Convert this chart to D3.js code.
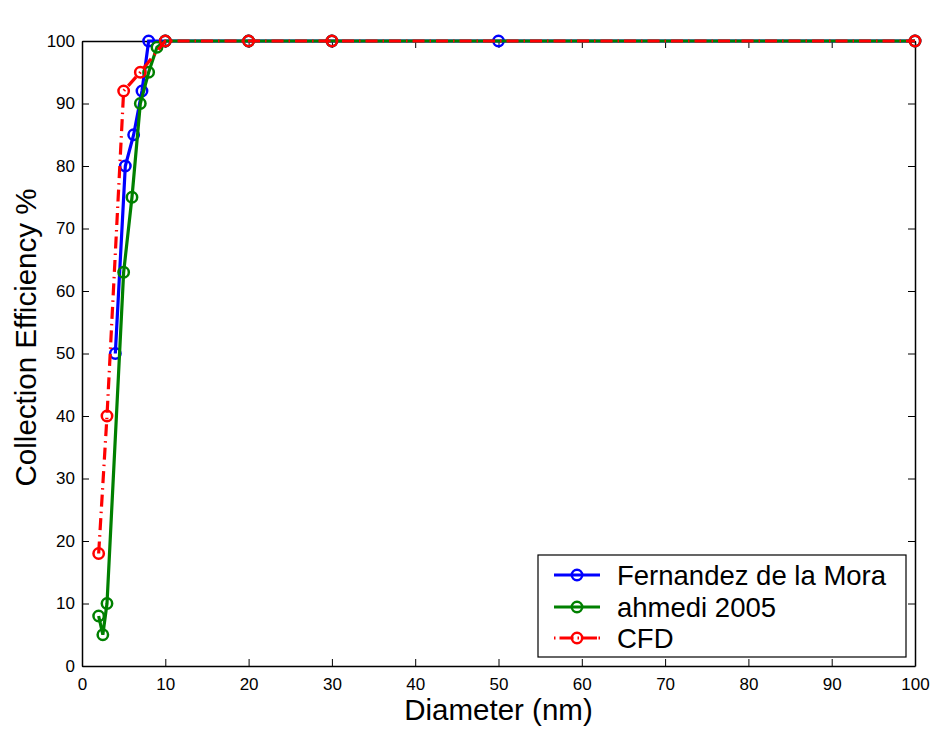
<!DOCTYPE html>
<html><head><meta charset="utf-8">
<script src="https://cdn.jsdelivr.net/npm/d3@7"></script>
<style>body{margin:0;background:#fff;} svg{display:block;}</style>
</head><body>
<script>
// Data
const moraX = [4, 5.2, 6.2, 7.2, 8, 10, 20, 30, 50, 100];
const moraY = [50, 80, 85, 92, 100, 100, 100, 100, 100, 100];
const ahmediX = [2, 2.5, 3, 5, 6, 7, 8, 9, 10, 20, 30, 100];
const ahmediY = [8, 5, 10, 63, 75, 90, 95, 99, 100, 100, 100, 100];
const cfdX = [2, 3, 5, 7, 10, 20, 30, 100];
const cfdY = [18, 40, 92, 95, 100, 100, 100, 100];
const seriesNames = ["Fernandez de la Mora", "ahmedi 2005", "CFD"];
const xTicks = [0,10,20,30,40,50,60,70,80,90,100];
const yTicks = [0,10,20,30,40,50,60,70,80,90,100];

const W = 936, H = 731;
const L = 82, R = 915, T = 41, B = 666;
const svg = d3.select("body").append("svg").attr("width", W).attr("height", H)
  .style("font-family", "'Liberation Sans', Arial, Helvetica, sans-serif");

const x = d3.scaleLinear().domain([0,100]).range([L,R]);
const y = d3.scaleLinear().domain([0,100]).range([B,T]);

// Axes box
const tickLen = 7;
const axB = svg.append("g").attr("transform",`translate(0,${B})`)
  .call(d3.axisBottom(x).tickValues(xTicks).tickSize(-tickLen).tickPadding(12).tickSizeOuter(0));
const axT = svg.append("g").attr("transform",`translate(0,${T})`)
  .call(d3.axisTop(x).tickValues(xTicks).tickSize(-tickLen).tickFormat("").tickSizeOuter(0));
const axL = svg.append("g").attr("transform",`translate(${L},0)`)
  .call(d3.axisLeft(y).tickValues(yTicks).tickSize(-tickLen).tickPadding(7).tickSizeOuter(0));
const axR = svg.append("g").attr("transform",`translate(${R},0)`)
  .call(d3.axisRight(y).tickValues(yTicks).tickSize(-tickLen).tickFormat("").tickSizeOuter(0));
[axB,axT,axL,axR].forEach(g=>{
  g.selectAll(".domain").attr("stroke","#000").attr("stroke-width",1.5);
  g.selectAll(".tick line").attr("stroke","#000").attr("stroke-width",1);
  g.selectAll("text").attr("font-size",17).attr("fill","#000").style("font-family","'Liberation Sans', Arial, sans-serif");
});

// Lines
const series = [
  {xs: moraX, ys: moraY, color: "#0000ff", dash: null},
  {xs: ahmediX, ys: ahmediY, color: "#008000", dash: null},
  {xs: cfdX, ys: cfdY, color: "#ff0000", dash: "12,5,1.5,5"}
];
const line = d3.line().x(d=>x(d[0])).y(d=>y(d[1]));
series.forEach(s=>{
  const pts = s.xs.map((v,i)=>[v, s.ys[i]]);
  svg.append("path").datum(pts).attr("d", line).attr("fill","none")
    .attr("stroke", s.color).attr("stroke-width", 3.2)
    .attr("stroke-dasharray", s.dash);
  svg.selectAll(null).data(pts).enter().append("circle")
    .attr("cx", d=>x(d[0])).attr("cy", d=>y(d[1])).attr("r", 5.2)
    .attr("fill","none").attr("stroke", s.color).attr("stroke-width", 2.5);
});

// Axis labels
svg.append("text").attr("x", 498.5).attr("y", 720).attr("text-anchor","middle")
  .attr("font-size", 29.5).text("Diameter (nm)");
svg.append("text").attr("transform", `translate(36,337.5) rotate(-90)`)
  .attr("text-anchor","middle").attr("font-size", 29.5).text("Collection Efficiency %");

// Legend
const lg = svg.append("g");
lg.append("rect").attr("x",538).attr("y",555).attr("width",368).attr("height",102)
  .attr("fill","#fff").attr("stroke","#000").attr("stroke-width",1.2);
const ly = [575, 607, 638];
series.forEach((s,i)=>{
  lg.append("line").attr("x1",554).attr("x2",600).attr("y1",ly[i]).attr("y2",ly[i])
    .attr("stroke", s.color).attr("stroke-width",3.2)
    .attr("stroke-dasharray", s.dash ? "1.5,4,14,4,1.5,4,14" : null);
  lg.append("circle").attr("cx",577).attr("cy",ly[i]).attr("r",5.2)
    .attr("fill","none").attr("stroke",s.color).attr("stroke-width",2.5);
  lg.append("text").attr("x",617).attr("y",ly[i]+10).attr("font-size",27.5).text(seriesNames[i]);
});
</script>
</body></html>
